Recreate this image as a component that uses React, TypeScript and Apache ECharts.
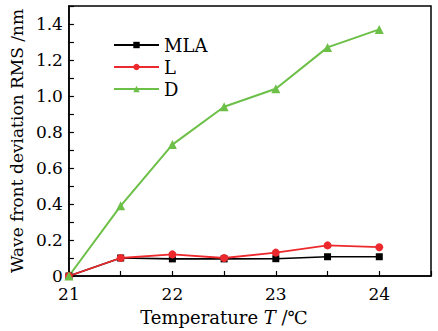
import React, { useEffect, useRef } from "react";
import * as echarts from "echarts";

const temps = [21, 21.5, 22, 22.5, 23, 23.5, 24];
const mla = [0, 0.1, 0.095, 0.095, 0.096, 0.107, 0.107];
const lSeries = [0, 0.1, 0.12, 0.1, 0.13, 0.17, 0.16];
const dSeries = [0, 0.39, 0.73, 0.94, 1.04, 1.27, 1.37];

const FONT = "'DejaVu Serif', 'Liberation Serif', serif";

export default function App() {
  const ref = useRef<HTMLDivElement>(null);
  useEffect(() => {
    if (!ref.current) return;
    const chart = echarts.init(ref.current, undefined, { renderer: "svg" });
    const mk = (arr: number[]) => temps.map((t, i) => [t, arr[i]]);
    chart.setOption({
      animation: false,
      textStyle: { fontFamily: FONT },
      grid: {
        left: 64,
        right: 7,
        top: 6,
        bottom: 55,
        show: true,
        borderColor: "#000",
        borderWidth: 1.5,
      },
      legend: {
        left: 108,
        top: 31,
        orient: "vertical",
        itemWidth: 45,
        itemHeight: 8,
        itemGap: 4,
        textStyle: { fontFamily: FONT, fontSize: 18, color: "#000" },
        data: ["MLA", "L", "D"],
      },
      xAxis: {
        type: "value",
        min: 21,
        max: 24.5,
        interval: 0.5,
        name: "Temperature {i|T} /℃",
        nameLocation: "middle",
        nameGap: 32,
        nameTextStyle: {
          fontFamily: FONT,
          fontSize: 18,
          color: "#000",
          padding: [0, 52, 0, 0],
          rich: { i: { fontFamily: FONT, fontSize: 18, fontStyle: "italic", color: "#000" } },
        },
        axisLine: { lineStyle: { color: "#000", width: 1.5 } },
        axisTick: { inside: true, length: 5, lineStyle: { color: "#000", width: 1.2 } },
        axisLabel: {
          fontFamily: FONT,
          fontSize: 17,
          color: "#000",
          margin: 9,
          formatter: (v: number) => (Number.isInteger(v) && v < 24.5 ? String(v) : ""),
        },
        splitLine: { show: false },
      },
      yAxis: {
        type: "value",
        min: 0,
        max: 1.5,
        interval: 0.2,
        name: "Wave front deviation RMS /nm",
        nameLocation: "middle",
        nameGap: 42,
        nameTextStyle: { fontFamily: FONT, fontSize: 17, color: "#000" },
        axisLine: { show: true, lineStyle: { color: "#000", width: 1.5 } },
        axisTick: { inside: true, length: 5, lineStyle: { color: "#000", width: 1.2 } },
        minorTick: { show: true, splitNumber: 2, length: 5, lineStyle: { color: "#000", width: 1.2 } },
        axisLabel: {
          fontFamily: FONT,
          fontSize: 17,
          color: "#000",
          margin: 6,
          formatter: (v: number) => (v === 0 ? "0" : v > 1.45 ? "" : v.toFixed(1)),
        },
        splitLine: { show: false },
      },
      series: [
        {
          name: "MLA",
          type: "line",
          data: mk(mla),
          symbol: "rect",
          symbolSize: 7,
          itemStyle: { color: "#000" },
          lineStyle: { color: "#000", width: 1.6 },
        },
        {
          name: "L",
          type: "line",
          data: mk(lSeries),
          symbol: "circle",
          symbolSize: 8,
          itemStyle: { color: "#ec2a2e" },
          lineStyle: { color: "#ec2a2e", width: 1.8 },
        },
        {
          name: "D",
          type: "line",
          data: mk(dSeries),
          symbol: "triangle",
          symbolSize: 9,
          itemStyle: { color: "#6cbf47" },
          lineStyle: { color: "#6cbf47", width: 2 },
        },
      ],
    });
    return () => chart.dispose();
  }, []);
  return <div ref={ref} style={{ width: 438, height: 331, position: "absolute", left: 0, top: 0 }} />;
}
